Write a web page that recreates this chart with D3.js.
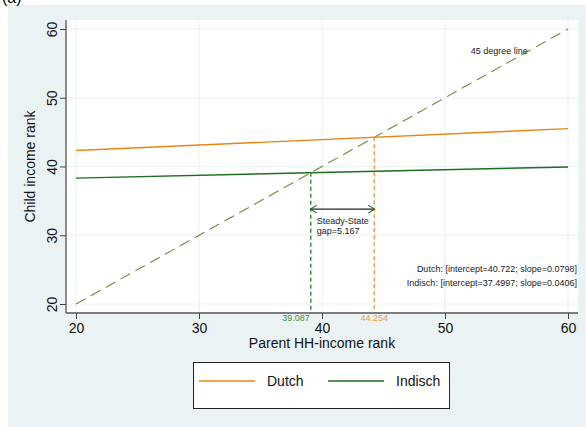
<!DOCTYPE html>
<html><head><meta charset="utf-8">
<script src="https://cdn.jsdelivr.net/npm/d3@7"></script>
<style>body{margin:0;background:#fff}svg{display:block;font-family:"Liberation Sans",Arial,sans-serif}</style>
</head><body><svg id="c" width="586" height="427"></svg>
<script>
const series = ["Dutch", "Indisch"];
const intercepts = [40.722, 37.4997];
const slopes = [0.0798, 0.0406];
const steadyStates = [44.254, 39.087];
const xTicks = [20, 30, 40, 50, 60];
const yTicks = [20, 30, 40, 50, 60];
const xDomain = [20, 60];
const gapValue = 5.167;
const arrowY = 33.8;
const colors = ["#ea8410", "#1c6e1c"];
const vColors = ["#f0a040", "#3f8f3f"];

const svg = d3.select("#c");
svg.append("rect").attr("x",8).attr("y",5).attr("width",578).attr("height",422).attr("fill","#eaf2f3");
svg.append("text").attr("x",2).attr("y",3).attr("font-size",16).text("(a)");

const L=66,R=578,T=20,B=313;
svg.append("rect").attr("x",L).attr("y",T).attr("width",R-L).attr("height",B-T).attr("fill","#fff");
const x=d3.scaleLinear().domain([20,60]).range([76,568]);
const y=d3.scaleLinear().domain([20,60]).range([304,29]);
const g=svg.append("g");
// grid
g.selectAll(".gx").data(xTicks).join("line").attr("x1",d=>x(d)).attr("x2",d=>x(d)).attr("y1",T).attr("y2",B).attr("stroke","#eaf2f3").attr("stroke-width",1.2);
g.selectAll(".gy").data(yTicks).join("line").attr("y1",d=>y(d)).attr("y2",d=>y(d)).attr("x1",L).attr("x2",R).attr("stroke","#eaf2f3").attr("stroke-width",1.2);

// 45 degree line
g.append("line").attr("x1",x(20)).attr("y1",y(20)).attr("x2",x(60)).attr("y2",y(60))
 .attr("stroke","#6e8b3d").attr("stroke-width",1.1).attr("stroke-dasharray","11,6");
// series lines
series.forEach((s,i)=>{
  g.append("line").attr("x1",x(xDomain[0])).attr("y1",y(intercepts[i]+slopes[i]*xDomain[0]))
   .attr("x2",x(xDomain[1])).attr("y2",y(intercepts[i]+slopes[i]*xDomain[1]))
   .attr("stroke",colors[i]).attr("stroke-width",1.4);
  const ss=steadyStates[i];
  g.append("line").attr("x1",x(ss)).attr("x2",x(ss)).attr("y1",y(ss)).attr("y2",B)
   .attr("stroke",vColors[i]).attr("stroke-width",1.5).attr("stroke-dasharray","4,3");
  g.append("text").attr("x",i===1?x(ss)-1:x(ss)).attr("y",B+8).attr("text-anchor",i===1?"end":"middle").attr("font-size",9)
   .attr("fill",vColors[i]).text(ss.toFixed(3));
});
// arrow
const ay=y(arrowY), ax1=x(steadyStates[1]), ax2=x(steadyStates[0]);
g.append("line").attr("x1",ax1).attr("x2",ax2).attr("y1",ay).attr("y2",ay).attr("stroke","#222").attr("stroke-width",1.2);
g.append("path").attr("d",`M${ax1+6},${ay-4}L${ax1},${ay}L${ax1+6},${ay+4}M${ax2-6},${ay-4}L${ax2},${ay}L${ax2-6},${ay+4}`)
 .attr("fill","none").attr("stroke","#1c6e1c").attr("stroke-width",1.2);
g.append("text").attr("x",ax1+6).attr("y",ay+15).attr("font-size",9).attr("fill","#222").text("Steady-State");
g.append("text").attr("x",ax1+6).attr("y",ay+25).attr("font-size",9).attr("fill","#222").text("gap="+gapValue.toFixed(3));
g.append("text").attr("x",x(52.1)).attr("y",y(56.4)).attr("font-size",9).attr("fill","#222").text("45 degree line");
series.forEach((s,i)=>{
  g.append("text").attr("x",R-1).attr("y",272+i*14).attr("text-anchor","end").attr("font-size",9).attr("fill","#222")
   .text(`${s}: [intercept=${intercepts[i]}; slope=${slopes[i]}]`);
});

// axes
const xa=svg.append("g").attr("transform",`translate(0,${B})`).call(d3.axisBottom(x).tickValues(xTicks).tickSize(6).tickPadding(4));
xa.select(".domain").attr("d",`M${L},0H${R}`).attr("stroke","#555").attr("stroke-width",1.3);
xa.selectAll(".tick line").attr("stroke","#444");
xa.selectAll(".tick text").attr("font-size",14).attr("font-family","Liberation Sans, Arial, sans-serif").attr("fill","#111");
const ya=svg.append("g").attr("transform",`translate(${L},0)`).call(d3.axisLeft(y).tickValues(yTicks).tickSize(6));
ya.select(".domain").attr("d",`M0,${T}V${B}`).attr("stroke","#555").attr("stroke-width",1.3);
ya.selectAll(".tick line").attr("stroke","#444");
ya.selectAll(".tick text").attr("font-size",14).attr("font-family","Liberation Sans, Arial, sans-serif").attr("fill","#111")
  .attr("x",null).attr("dy",null).attr("text-anchor","middle").attr("transform","translate(-14,0) rotate(-90)").attr("y",0).attr("dy","0.35em");

svg.append("text").attr("x",(L+R)/2).attr("y",348).attr("text-anchor","middle").attr("font-size",14).attr("fill","#111").text("Parent HH-income rank");
svg.append("text").attr("transform",`translate(35,${(T+B)/2}) rotate(-90)`).attr("text-anchor","middle").attr("font-size",14).attr("fill","#111").text("Child income rank");

// legend
svg.append("rect").attr("x",193.5).attr("y",362.5).attr("width",256).attr("height",46).attr("fill","#fff").attr("stroke","#222").attr("stroke-width",1);
const lx=[199,328];
series.forEach((s,i)=>{
  svg.append("line").attr("x1",lx[i]).attr("x2",lx[i]+56).attr("y1",381).attr("y2",381).attr("stroke",colors[i]).attr("stroke-width",1.4);
  svg.append("text").attr("x",lx[i]+68).attr("y",386).attr("font-size",14).attr("fill","#111").text(s);
});
</script></body></html>
